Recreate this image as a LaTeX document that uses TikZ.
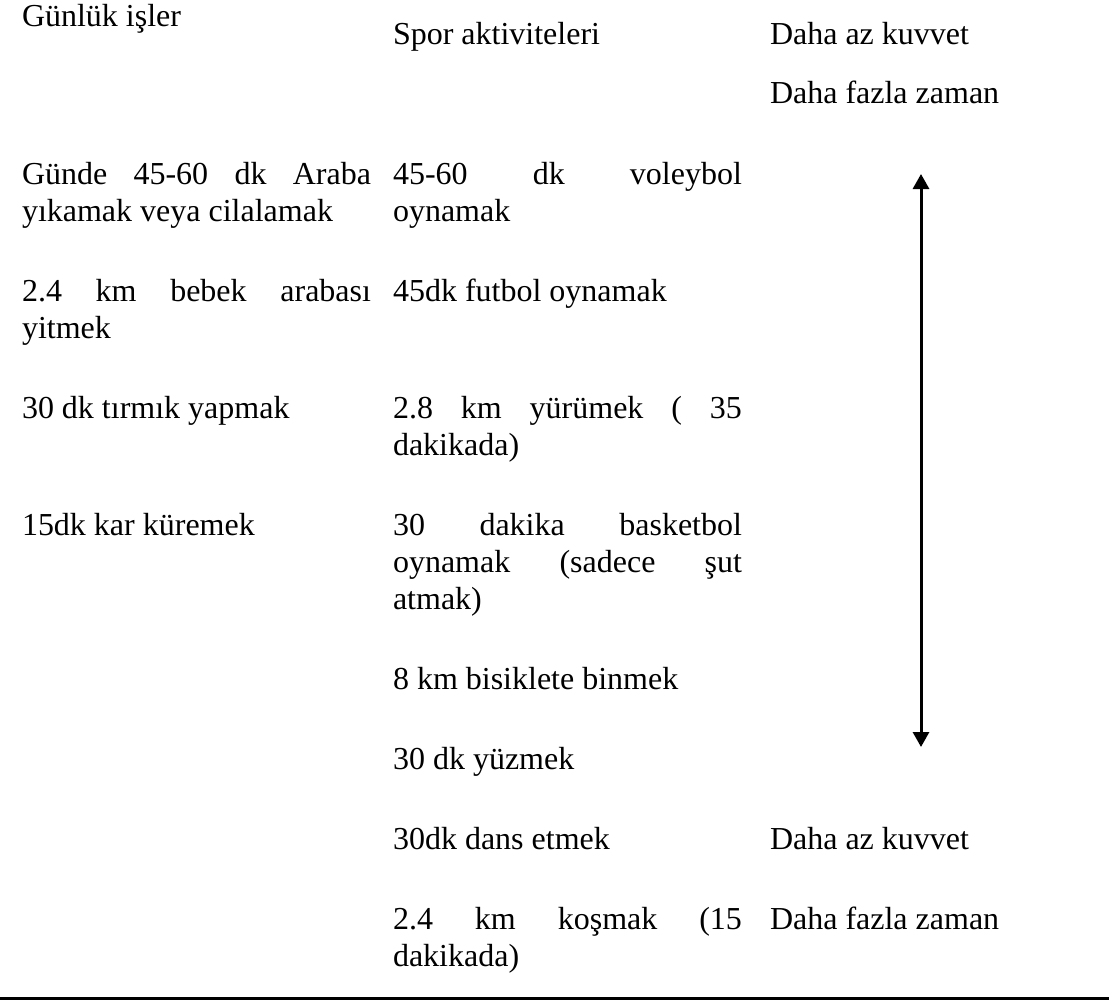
\documentclass[tikz,border=0pt]{standalone}
\usepackage{fontspec}
\setmainfont{Liberation Serif}
\usetikzlibrary{arrows.meta}
\newcommand{\jl}[1]{\makebox[349pt][s]{#1}}
\begin{document}
\begin{tikzpicture}[x=1pt,y=-1pt,
  txt/.style={anchor=base west,inner sep=0pt,outer sep=0pt,font=\fontsize{32}{37}\selectfont},
  scale arrow/.style={line width=3pt,{Triangle[width=16pt,length=15pt]}-{Triangle[width=16pt,length=15pt]}},
  rule/.style={line width=3pt}]
\useasboundingbox (0,0) rectangle (1109,1001);
% header
\node[txt] (h1) at (22,27) {Günlük işler};
\node[txt] (h2) at (393,45) {Spor aktiviteleri};
\node[txt] (h3a) at (770,45) {Daha az kuvvet};
\node[txt] (h3b) at (770,103) {Daha fazla zaman};
% column 1
\node[txt] (a1a) at (22,184) {\jl{Günde 45-60 dk Araba}};
\node[txt] (a1b) at (22,221) {yıkamak veya cilalamak};
\node[txt] (a2a) at (22,301) {\jl{2.4 km bebek arabası}};
\node[txt] (a2b) at (22,338) {yitmek};
\node[txt] (a3) at (22,418) {30 dk tırmık yapmak};
\node[txt] (a4) at (22,535) {15dk kar küremek};
% column 2
\node[txt] (b1a) at (393,184) {\jl{45-60 dk voleybol}};
\node[txt] (b1b) at (393,221) {oynamak};
\node[txt] (b2) at (393,301) {45dk futbol oynamak};
\node[txt] (b3a) at (393,418) {\jl{2.8 km yürümek ( 35}};
\node[txt] (b3b) at (393,455) {dakikada)};
\node[txt] (b4a) at (393,535) {\jl{30 dakika basketbol}};
\node[txt] (b4b) at (393,572) {\jl{oynamak (sadece şut}};
\node[txt] (b4c) at (393,609) {atmak)};
\node[txt] (b5) at (393,689) {8 km bisiklete binmek};
\node[txt] (b6) at (393,769) {30 dk yüzmek};
\node[txt] (b7) at (393,849) {30dk dans etmek};
\node[txt] (b8a) at (393,929) {\jl{2.4 km koşmak (15}};
\node[txt] (b8b) at (393,966) {dakikada)};
% column 3
\node[txt] (c7) at (770,849) {Daha az kuvvet};
\node[txt] (c8) at (770,929) {Daha fazla zaman};
% arrow
\coordinate (arrTop) at (921,174);
\coordinate (arrBot) at (921,747);
\draw[scale arrow] (arrBot) -- (arrTop);
% bottom rule
\coordinate (ruleL) at (0,998.5);
\coordinate (ruleR) at (1109,998.5);
\draw[rule] (ruleL) -- (ruleR);
\end{tikzpicture}
\end{document}
